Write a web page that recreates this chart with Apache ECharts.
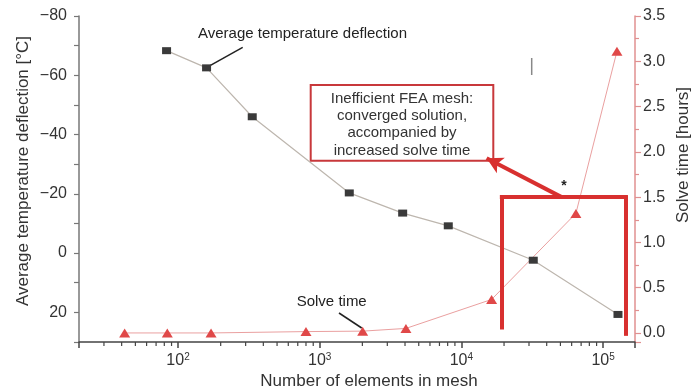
<!DOCTYPE html>
<html><head><meta charset="utf-8">
<script src="https://cdn.jsdelivr.net/npm/echarts@6/dist/echarts.min.js"></script>
<style>html,body{margin:0;padding:0;background:#fff}#c{width:695px;height:390px}</style>
</head><body><div id="c"></div>
<script>
// ---- data ----
const tempElements = [83, 159, 334, 1617, 3850, 8080, 32150, 127400];
const tempDeflection = [-68.3, -62.5, -46.0, -20.3, -13.5, -9.2, 2.4, 20.7];
const solveElements = [42, 84, 171, 800, 2010, 4060, 16340, 64300, 125300];
const solveHours = [0.0, 0.0, 0.0, 0.015, 0.02, 0.05, 0.37, 1.32, 3.11];
const minorXTicks = [30,40,50,60,70,80,90,200,300,400,500,600,700,800,900,
  2000,3000,4000,5000,6000,7000,8000,9000,20000,30000,40000,50000,60000,70000,80000,90000];
const leftTickLabels = [-80, -60, -40, -20, 0, 20];
const bracketX = [19300, 144000];
const bracketTop = 1.5, bracketLeftBottom = 0.06, bracketRightBottom = -0.01;
const arrowStart = [51000, 1.5], arrowEnd = [15070, 1.93];
const boxLines = ['Inefficient FEA mesh:', 'converged solution,', 'accompanied by', 'increased solve time'];

const FONT = '"Liberation Sans", Arial, Helvetica, sans-serif';
const RED = '#d8302f';
const chart = echarts.init(document.getElementById('c'));

const xLabel = v => {
  const l = Math.log10(v), r = Math.round(l);
  return Math.abs(l - r) < 1e-6 ? '10{s|' + r + '}' : '';
};

const boxGraphics = boxLines.map((t, i) => ({
  type: 'text', x: 402, y: 98.5 + i * 17.3,
  style: { text: t, font: '15px ' + FONT, fill: '#333', align: 'center', verticalAlign: 'middle' }
}));

chart.setOption({
  animation: false,
  backgroundColor: '#fff',
  grid: { left: 79, right: 60, top: 16, bottom: 48 },
  xAxis: {
    type: 'log', min: 20, max: 168000,
    axisLine: { onZero: false, lineStyle: { color: '#444', width: 1.5 } },
    axisTick: { length: 6, lineStyle: { color: '#444', width: 1.5 } },
    splitLine: { show: false },
    axisLabel: {
      formatter: xLabel, margin: 10, color: '#333', fontFamily: FONT, fontSize: 16,
      rich: { s: { fontSize: 10, fontFamily: FONT, color: '#333', padding: [0, 0, 8, 0] } }
    }
  },
  yAxis: [{
    type: 'value', inverse: true, min: -80, max: 30, interval: 10, position: 'left',
    axisLine: { show: true, onZero: false, lineStyle: { color: '#777', width: 1.5 } },
    axisTick: { show: true, length: 5, lineStyle: { color: '#777', width: 1.2 } },
    splitLine: { show: false },
    axisLabel: {
      margin: 12, color: '#333', fontFamily: FONT, fontSize: 16,
      formatter: v => leftTickLabels.indexOf(v) >= 0 ? (v < 0 ? '\u2212' + (-v) : String(v)) : ''
    }
  }, {
    type: 'value', min: -0.1, max: 3.5, splitNumber: 7, minInterval: 0.5, maxInterval: 0.5, position: 'right',
    axisLine: { show: true, onZero: false, lineStyle: { color: '#e09090', width: 1.5 } },
    axisTick: { show: true, length: 6, lineStyle: { color: '#e09090', width: 1.2 } },
    minorTick: { show: true, splitNumber: 2, length: 4, lineStyle: { color: '#e09090', width: 1.2 } },
    splitLine: { show: false },
    axisLabel: {
      margin: 8, color: '#333', fontFamily: FONT, fontSize: 16,
      formatter: v => v < 0 ? '' : v.toFixed(1)
    }
  }],
  series: [{
    type: 'line', name: 'Average temperature deflection', xAxisIndex: 0, yAxisIndex: 0,
    data: tempElements.map((x, i) => [x, tempDeflection[i]]),
    symbol: 'rect', symbolSize: [9, 7], z: 4,
    itemStyle: { color: '#3a3a3a' },
    lineStyle: { color: '#bdb6ae', width: 1.2 }
  }, {
    type: 'line', name: 'Solve time', xAxisIndex: 0, yAxisIndex: 1,
    data: solveElements.map((x, i) => [x, solveHours[i]]),
    symbol: 'triangle', symbolSize: [11, 9], z: 4,
    itemStyle: { color: '#e04848' },
    lineStyle: { color: '#eaa0a0', width: 1 },
    markLine: {
      silent: true, symbol: ['none', 'none'], label: { show: false },
      lineStyle: { color: RED, width: 4, type: 'solid', cap: 'square' },
      emphasis: { disabled: true },
      data: [
        [{ coord: [bracketX[0], bracketTop] }, { coord: [bracketX[1], bracketTop] }],
        [{ coord: [bracketX[0], bracketTop] }, { coord: [bracketX[0], bracketLeftBottom] }],
        [{ coord: [bracketX[1], bracketTop] }, { coord: [bracketX[1], bracketRightBottom] }],
        [{ coord: arrowStart, symbol: 'none' },
         { coord: arrowEnd, symbol: 'arrow', symbolSize: [13, 16], lineStyle: { cap: 'butt' } }]
      ]
    }
  }, {
    type: 'custom', xAxisIndex: 0, yAxisIndex: 0, silent: true, clip: false,
    data: minorXTicks.map(v => [v, 30]),
    renderItem: (params, api) => {
      const p = api.coord([api.value(0), api.value(1)]);
      return { type: 'line', shape: { x1: p[0], y1: p[1], x2: p[0], y2: p[1] + 4 },
        style: { stroke: '#444', lineWidth: 1.2 } };
    }
  }],
  graphic: [
    { type: 'text', x: 23, y: 171, rotation: Math.PI / 2,
      style: { text: 'Average temperature deflection [°C]', font: '17px ' + FONT, fill: '#333', align: 'center', verticalAlign: 'middle' } },
    { type: 'text', x: 683, y: 155, rotation: Math.PI / 2,
      style: { text: 'Solve time [hours]', font: '17px ' + FONT, fill: '#333', align: 'center', verticalAlign: 'middle' } },
    { type: 'text', x: 369, y: 381,
      style: { text: 'Number of elements in mesh', font: '17px ' + FONT, fill: '#333', align: 'center', verticalAlign: 'middle' } },
    { type: 'text', x: 198, y: 34,
      style: { text: 'Average temperature deflection', font: '15px ' + FONT, fill: '#222', align: 'left', verticalAlign: 'middle' } },
    { type: 'line', shape: { x1: 242.7, y1: 47.3, x2: 210, y2: 65.7 }, style: { stroke: '#222', lineWidth: 1.5 } },
    { type: 'text', x: 331.7, y: 301.7,
      style: { text: 'Solve time', font: '15px ' + FONT, fill: '#222', align: 'center', verticalAlign: 'middle' } },
    { type: 'line', shape: { x1: 339, y1: 313, x2: 361.7, y2: 328 }, style: { stroke: '#222', lineWidth: 1.5 } },
    { type: 'rect', shape: { x: 310.7, y: 85, width: 182.6, height: 75.7 },
      style: { fill: '#fff', stroke: '#c8383b', lineWidth: 2 } },
    ...boxGraphics,
    { type: 'text', x: 564, y: 186,
      style: { text: '*', font: 'bold 14px ' + FONT, fill: '#222', align: 'center', verticalAlign: 'middle' } },
    { type: 'line', shape: { x1: 531.7, y1: 58, x2: 531.7, y2: 75 }, style: { stroke: '#888', lineWidth: 1.5 } }
  ]
});
</script></body></html>
